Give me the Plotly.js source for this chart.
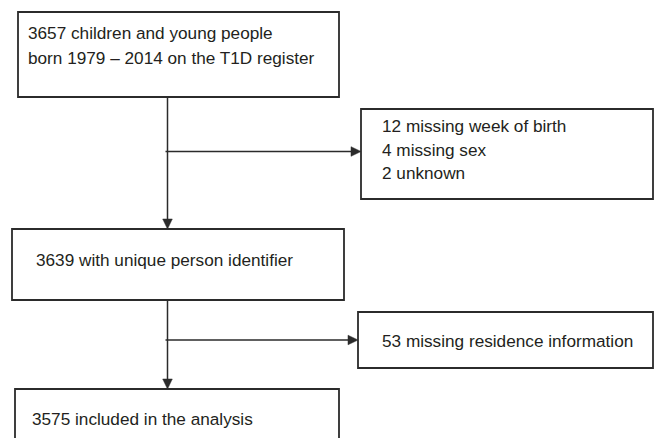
<!DOCTYPE html>
<html>
<head>
<meta charset="utf-8">
<script src="https://cdn.plot.ly/plotly-3.0.1.min.js"></script>
<style>
html,body{margin:0;padding:0;background:#fff;}
#chart{width:655px;height:438px;}
</style>
</head>
<body>
<div id="chart"></div>
<script>
// ---- data ----
const stepCounts = [3657, 3639, 3575];
const stepLabels = [
  ["3657 children and young people", "born 1979 \u2013 2014 on the T1D register"],
  ["3639 with unique person identifier"],
  ["3575 included in the analysis"]
];
const exclusionCounts = [[12, 4, 2], [53]];
const exclusionLabels = [
  ["12 missing week of birth", "4 missing sex", "2 unknown"],
  ["53 missing residence information"]
];

// ---- layout geometry (pixels) ----
const mainBoxes = [
  {x0: 18, x1: 339, y0: 12, y1: 97, tx: 26, ty: [33, 58]},
  {x0: 12, x1: 344, y0: 229, y1: 300, tx: 34, ty: [259.5]},
  {x0: 15, x1: 339, y0: 389, y1: 450, tx: 30, ty: [418.5]}
];
const sideBoxes = [
  {x0: 361, x1: 653, y0: 109, y1: 199, tx: 380, ty: [126, 149.5, 173], ay: 151.5},
  {x0: 358, x1: 653, y0: 312, y1: 368, tx: 380, ty: [340.5], ay: 340}
];
const trunkX = 167.5;

const lineCol = '#2b2b2b';
const textCol = '#231f20';
const shapes = [];
const annotations = [];

function box(b){
  shapes.push({type:'rect', xref:'x', yref:'y', x0:b.x0, x1:b.x1, y0:b.y0, y1:b.y1,
    line:{color:lineCol, width:1.8}, fillcolor:'rgba(0,0,0,0)'});
}
function line(x0,y0,x1,y1){
  shapes.push({type:'line', xref:'x', yref:'y', x0:x0, y0:y0, x1:x1, y1:y1,
    line:{color:lineCol, width:1.5}});
}
function tri(pts){
  shapes.push({type:'path', xref:'x', yref:'y',
    path:'M'+pts.map(p=>p[0]+','+p[1]).join(' L')+' Z',
    fillcolor:lineCol, line:{color:lineCol, width:0.5}});
}
function texts(b, labels){
  labels.forEach((t,i)=>{
    annotations.push({x:b.tx, y:b.ty[i], xref:'x', yref:'y', text:t, showarrow:false,
      xanchor:'left', yanchor:'middle',
      font:{family:'Liberation Sans, Arial, sans-serif', size:17.2, color:textCol}});
  });
}

mainBoxes.forEach((b,i)=>{ box(b); texts(b, stepLabels[i]); });
sideBoxes.forEach((b,i)=>{ box(b); texts(b, exclusionLabels[i]); });

// connectors
for (let i=0;i<2;i++){
  const top = mainBoxes[i].y1, bot = mainBoxes[i+1].y0;
  line(trunkX, top, trunkX, bot-9);
  tri([[trunkX-4.8, bot-10],[trunkX+4.8, bot-10],[trunkX, bot]]);
  const s = sideBoxes[i];
  line(trunkX-2, s.ay, s.x0-9, s.ay);
  tri([[s.x0-10, s.ay-4.8],[s.x0-10, s.ay+4.8],[s.x0, s.ay]]);
}

const layout = {
  width:655, height:438,
  margin:{l:0,r:0,t:0,b:0},
  paper_bgcolor:'#fff', plot_bgcolor:'#fff',
  xaxis:{range:[0,655], visible:false, fixedrange:true},
  yaxis:{range:[438,0], visible:false, fixedrange:true},
  showlegend:false,
  shapes:shapes,
  annotations:annotations
};
Plotly.newPlot('chart', [{x:[], y:[], type:'scatter', hoverinfo:'skip'}], layout, {staticPlot:true, displayModeBar:false});
</script>
</body>
</html>
